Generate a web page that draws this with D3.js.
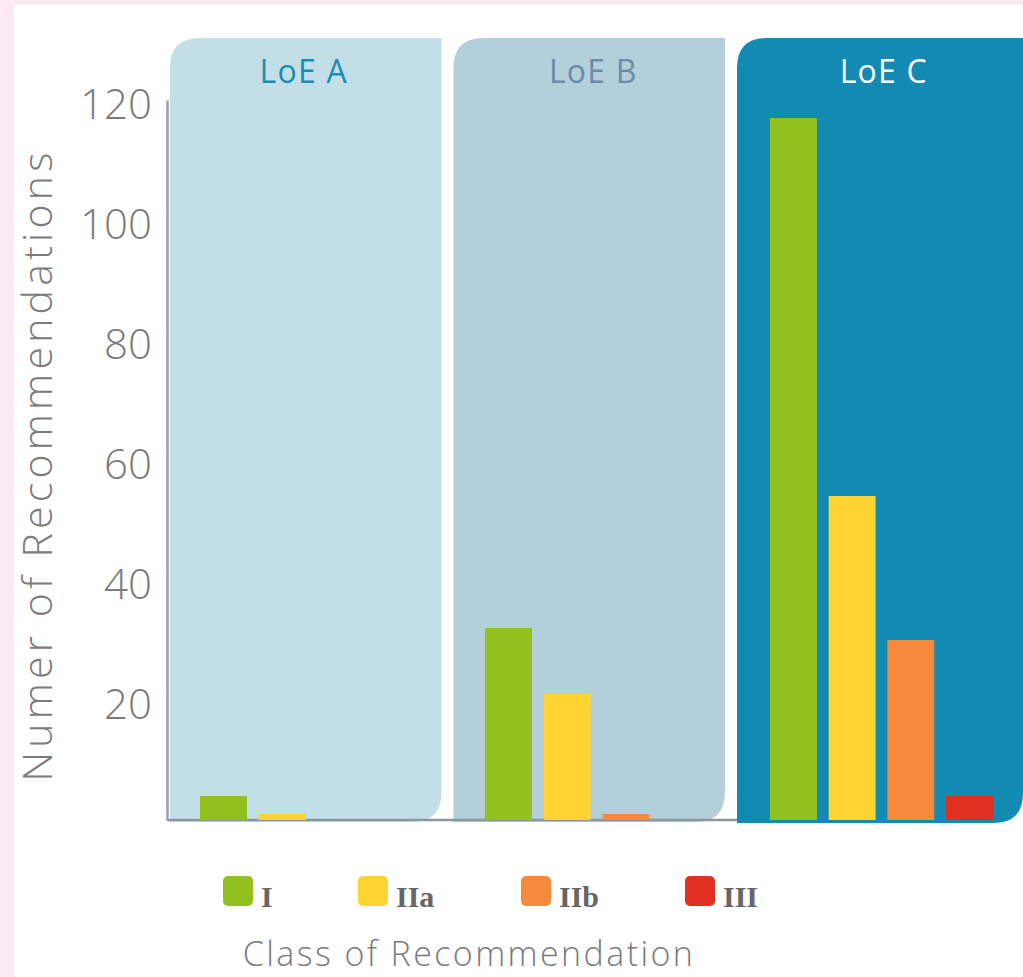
<!DOCTYPE html>
<html>
<head>
<meta charset="utf-8">
<script src="https://cdn.jsdelivr.net/npm/d3@7"></script>
<style>
  html, body { margin: 0; padding: 0; background: #fbeaf1; }
  svg { display: block; }
</style>
</head>
<body>
<script>
// Recommendations per Level of Evidence, split by Class of Recommendation
const levels = ["LoE A", "LoE B", "LoE C"];
const classes = ["I", "IIa", "IIb", "III"];
const countsA = [4, 1, 0, 0];
const countsB = [32, 21, 1, 0];
const countsC = [117, 54, 30, 4];
const yTicks = [20, 40, 60, 80, 100, 120];

const series = [countsA, countsB, countsC];
const classColors = ["#92c01f", "#fdd432", "#f58a3d", "#e1301f"];
const panelFills = ["#c2dfe8", "#b3cfda", "#138ab1"];
const panelText = ["#1b8cb4", "#6c8ba6", "#ffffff"];
const labelShift = [-2, 4, 11];

const W = 1023, H = 977;
const svg = d3.select("body").append("svg").attr("width", W).attr("height", H);

// white card on the pink page
svg.append("rect").attr("x", 14).attr("y", 5).attr("width", W - 14).attr("height", H - 5).attr("fill", "#ffffff");

const x0 = 167, baseY = 820;
const y = d3.scaleLinear().domain([0, 120]).range([baseY, 100]);
// background panels per level
const xPanel = d3.scaleBand().domain(levels).range([170, 1008.5]).paddingInner(0.0423).paddingOuter(0);
// bar clusters per level
const xGroup = d3.scaleBand().domain(levels).range([200, 993]).paddingInner(0.2175).paddingOuter(0);
const xi = d3.scaleBand().domain(classes).range([0, xGroup.bandwidth()]).paddingInner(0.2).paddingOuter(0);

// panel outline: rounded top-left and bottom-right corners
function panelPath(px, py, pw, ph, r) {
  return `M${px},${py + r} Q${px},${py} ${px + r},${py} L${px + pw},${py} L${px + pw},${py + ph - r} Q${px + pw},${py + ph} ${px + pw - r},${py + ph} L${px},${py + ph} Z`;
}

const panelTop = 38;
function drawPanel(i) {
  const lv = levels[i];
  const px = xPanel(lv);
  const last = i === levels.length - 1;
  const pw = last ? W - px : xPanel.bandwidth();
  const pb = last ? 823 : 822;
  svg.append("path")
    .attr("d", panelPath(px, panelTop, pw, pb - panelTop, 30))
    .attr("fill", panelFills[i]);
  svg.append("text")
    .attr("x", px + xPanel.bandwidth() / 2 + labelShift[i])
    .attr("y", 83)
    .attr("text-anchor", "middle")
    .attr("font-family", "'Open Sans', sans-serif")
    .attr("font-size", 32)
    .attr("letter-spacing", 1.2)
    .attr("fill", panelText[i])
    .text(lv);
}

drawPanel(0);
drawPanel(1);

// category baseline
svg.append("line")
  .attr("x1", x0).attr("x2", xPanel(levels[2]))
  .attr("y1", baseY).attr("y2", baseY)
  .attr("stroke", "#8d979c").attr("stroke-width", 2.5);

drawPanel(2);

// y axis
const yAxis = d3.axisLeft(y).tickValues(yTicks).tickSize(0).tickPadding(15);
const gy = svg.append("g").attr("transform", `translate(${x0},0)`).call(yAxis);
gy.select(".domain").attr("stroke", "#9aa1a5").attr("stroke-width", 2.5);
gy.selectAll("text")
  .attr("font-family", "'Open Sans', sans-serif")
  .attr("font-weight", 300)
  .attr("font-size", 42)
  .attr("fill", "#7b7b7b")
  .attr("dy", "0.36em")
  .attr("transform", "translate(0,3)");

// bars
levels.forEach((lv, i) => {
  svg.append("g")
    .attr("transform", `translate(${xGroup(lv)},0)`)
    .selectAll("rect")
    .data(series[i].map((v, k) => ({ v, k })).filter(d => d.v > 0))
    .join("rect")
    .attr("x", d => xi(classes[d.k]))
    .attr("width", xi.bandwidth())
    .attr("y", d => y(d.v))
    .attr("height", d => baseY - y(d.v))
    .attr("fill", d => classColors[d.k]);
});

// y-axis title
svg.append("text")
  .attr("transform", `translate(52,465) rotate(-90)`)
  .attr("text-anchor", "middle")
  .attr("font-family", "'Open Sans', sans-serif")
  .attr("font-weight", 300)
  .attr("font-size", 41)
  .attr("letter-spacing", 4.2)
  .attr("fill", "#7b7b7b")
  .text("Numer of Recommendations");

// legend
const legendX = [223, 358, 521, 685];
const legend = svg.append("g");
classes.forEach((c, k) => {
  legend.append("rect")
    .attr("x", legendX[k]).attr("y", 876)
    .attr("width", 30).attr("height", 30).attr("rx", 5)
    .attr("fill", classColors[k]);
  legend.append("text")
    .attr("x", legendX[k] + 38).attr("y", 907)
    .attr("font-family", "'Liberation Serif', serif")
    .attr("font-weight", "bold")
    .attr("font-size", 30)
    .attr("fill", "#666666")
    .text(c);
});

// x-axis title
svg.append("text")
  .attr("x", 469).attr("y", 966)
  .attr("text-anchor", "middle")
  .attr("font-family", "'Open Sans', sans-serif")
  .attr("font-weight", 300)
  .attr("font-size", 34)
  .attr("letter-spacing", 2.4)
  .attr("fill", "#7b7b7b")
  .text("Class of Recommendation");
</script>
</body>
</html>
